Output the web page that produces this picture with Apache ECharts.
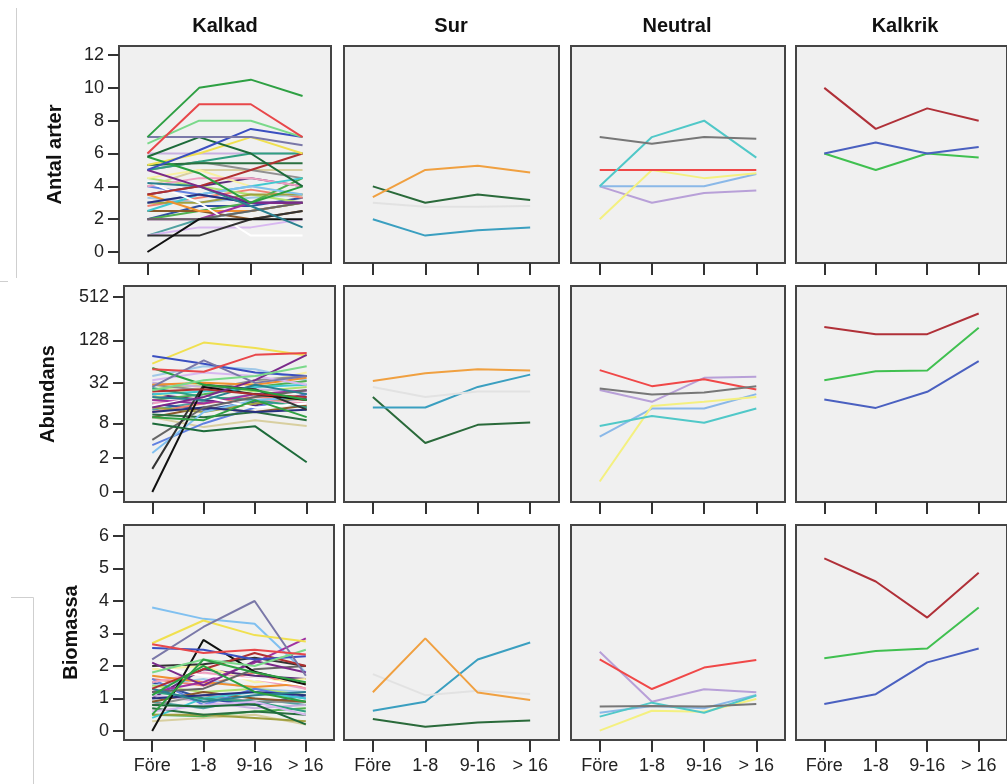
<!DOCTYPE html>
<html>
<head>
<meta charset="utf-8">
<script src="https://cdn.jsdelivr.net/npm/echarts@6/dist/echarts.min.js"></script>
<style>html,body{margin:0;padding:0;background:#fff}#c{width:1007px;height:784px}</style>
</head>
<body>
<div id="c"></div>
<script>
// ---------- DATA ----------
const categories = ['Före', '1-8', '9-16', '> 16'];
const groups = ['Kalkad', 'Sur', 'Neutral', 'Kalkrik'];
const measures = ['Antal arter', 'Abundans', 'Biomassa'];
const arterTicks = [0, 2, 4, 6, 8, 10, 12];
const abundansTicks = [0, 2, 8, 32, 128, 512];
const biomassaTicks = [0, 1, 2, 3, 4, 5, 6];

const kalkadColors = ['#2ea043','#e8474a','#7ad98a','#7a78a8','#3a4fc0','#1d6b3a','#2aa040','#7a2a8a',
  '#f0e050','#b03030','#2a8090','#111111','#333333','#666666','#ffffff','#d8b8f0','#a030a0','#283080',
  '#f09030','#80c0f0','#2a7040','#30a080','#40c8d0','#f0a0c0','#a0a040','#8a5a2a','#50b050','#6080e0',
  '#909090','#c8b0e0','#f8f0a0','#5a2a7a','#b0e070','#a0c8e8','#f08070','#d8cfa0','#3050a0','#50a0a0'];

const kalkadArter = [
  [7,10,10.5,9.5],[6,9,9,7],[6.6,8,8,7],[7,7,7,6.5],[5,6.2,7.5,7],[5.8,7,6,4],[5.8,4.8,3,4],[5,4,3,3],
  [5.3,6,7,6],[3.5,4,5,6],[4.2,4,2.8,1.5],[0,2,2,2],[1,1,2,2.5],[2,2,2.5,3],[4.3,3,1,1],[1,1.5,1.5,2],
  [2,2,3,3],[3,3.5,3,3],[3.5,2.5,2.5,3],[3,3.5,4,3.5],[5.3,5.4,5.4,5.4],[5,5.5,6,6],[2.5,3.5,4,4.5],[4,4.5,4.5,4],
  [3,3,3.5,3.5],[2.5,2.5,2,2.5],[2,2.5,3,4.5],[4,3.5,3,3],[5,5.5,5,4.5],[6,6,6,6],[4.5,5,4,3.5],[3.5,4,4.5,4],
  [4.5,4,3.5,3],[3.3,3,3.3,3.5],[2.8,3.3,3.8,3.3],[4,5,5,5],[2,2.8,2.8,3.3],[1,2,2.5,3]
];
const kalkadAbundans = [
  [10,9,18,10],[50,46,80,85],[25,35,40,55],[28,67,32,40],[77,60,45,40],[8,6,7.2,1.6],[52,30,25,18],[14,20,35,80],
  [60,119,100,78],[24,26,22,20],[20,18,30,22],[0,28,22,18],[1.1,30,26,13],[4.3,14,20,25],[15,20,14,16],[35,45,40,30],
  [18,16,22,25],[12,14,12,13],[30,32,30,38],[2.5,12,18,20],[11,10,12,9],[27,20,18,14],[22,24,28,30],[16,20,18,16],
  [14,12,16,20],[10,14,12,15],[18,22,28,34],[3.5,8,14,22],[30,25,35,40],[32,28,26,24],[20,28,32,45],[22,18,15,22],
  [26,30,24,28],[40,55,50,35],[12,16,20,18],[10,7,9,7.3],[16,13,17,19],[13,17,22,14]
];
const kalkadBiomassa = [
  [0.5,2.2,1.8,1.5],[2.67,2.4,2.5,2.35],[1.8,2.2,2.0,2.5],[2.2,3.2,4.0,1.7],[2.55,2.5,2.2,2.3],[0.8,0.75,0.82,0.2],[1.1,2.0,1.2,0.9],[2.1,1.4,2.15,1.8],
  [2.7,3.4,2.95,2.75],[1.3,1.9,2.4,2.0],[1.3,0.9,1.1,1.2],[0,2.8,1.82,1.43],[2.0,2.05,2.25,2.0],[1.2,1.3,1.9,2.0],[2.0,1.7,1.6,1.4],[0.6,0.8,0.9,0.5],
  [1.2,1.5,2.1,2.85],[1.0,1.1,1.2,1.1],[1.7,1.5,1.35,1.45],[3.8,3.45,3.3,1.8],[0.7,0.5,0.6,0.5],[1.2,1.0,0.9,0.6],[0.4,1.0,1.2,1.0],[1.5,1.8,1.6,1.3],
  [0.5,0.5,0.4,0.3],[0.9,1.2,1.0,0.9],[0.5,0.45,0.6,0.7],[1.6,0.8,1.3,1.0],[0.8,1.1,0.9,0.9],[1.1,0.9,0.7,0.8],[1.9,2.0,1.5,1.6],[1.0,1.9,1.7,1.6],
  [1.4,1.2,1.3,1.1],[1.4,1.6,1.3,1.2],[1.6,1.4,1.8,1.3],[0.3,0.4,0.5,0.2],[1.5,1.0,0.8,1.1],[0.9,0.7,1.0,0.8]
];

const surColors = ['#f0a040','#e2e2e2','#3a9fc0','#2a6a3a'];
const surArter = [[3.35,5,5.25,4.85],[3,2.75,2.75,2.8],[2,1,1.33,1.5],[4,3,3.5,3.17]];
const surAbundans = [[34,44,50,48],[28,20,24,24],[14,14,28,42],[20,3.8,7.6,8.3]];
const surBiomassa = [[1.19,2.85,1.18,0.95],[1.75,1.1,1.24,1.14],[0.62,0.9,2.2,2.72],[0.37,0.13,0.26,0.32]];

const neutralColors = ['#777777','#50c8c8','#f04848','#f4f080','#8ab8e8','#b8a0d8'];
const neutralArter = [[7,6.6,7,6.9],[4,7,8,5.75],[5,5,5,5],[2,5,4.5,4.8],[4,4,4,4.75],[4,3,3.6,3.75]];
const neutralAbundans = [[26.6,21.8,23.3,28.7],[7.3,10.4,8.2,13.5],[48.6,28.7,36,25.7],[0.4,14.7,17,20],[4.9,13.5,13.5,22],[25.2,17,37.8,39]];
const neutralBiomassa = [[0.75,0.77,0.75,0.83],[0.44,0.87,0.56,1.09],[2.2,1.29,1.95,2.18],[0.01,0.62,0.59,0.98],[0.56,0.77,0.7,1.11],[2.44,0.9,1.28,1.19]];

const kalkrikColors = ['#b03038','#4a60c0','#40c050'];
const kalkrikArter = [[10,7.5,8.75,8],[6,6.67,6,6.4],[6,5,6,5.75]];
const kalkrikAbundans = [[197,156,156,303],[18.4,13.8,23.8,65],[35,47,48,192]];
const kalkrikBiomassa = [[5.31,4.6,3.49,4.87],[0.83,1.13,2.11,2.54],[2.24,2.46,2.54,3.8]];

// ---------- BUILD ----------
const FONT = 'Arial, "Liberation Sans", sans-serif';
const panelData = [
  [kalkadArter, surArter, neutralArter, kalkrikArter],
  [kalkadAbundans, surAbundans, neutralAbundans, kalkrikAbundans],
  [kalkadBiomassa, surBiomassa, neutralBiomassa, kalkrikBiomassa]
];
const panelColors = [kalkadColors, surColors, neutralColors, kalkrikColors];
const yTicks = [arterTicks, abundansTicks, biomassaTicks];
const tr = [v => v, v => Math.log2(v + 1), v => v];
const untr = [v => v, v => Math.round(Math.pow(2, v) - 1), v => v];

const rowTop = [46, 286, 525], rowH = [217, 216, 215];
const colLeft = [[119,344,571,796],[124,344,571,796],[124,344,571,796]];
const colW = [[212,215,214,214],[211,215,214,214],[210,215,214,214]];
const yRange = [[-0.67,12.55],[-0.46,9.52],[-0.28,6.34]];
const nameGaps = [54, 66, 43];

const grids = [], xAxes = [], yAxes = [], series = [];
for (let r = 0; r < 3; r++) {
  for (let c = 0; c < 4; c++) {
    const idx = r * 4 + c;
    grids.push({left: colLeft[r][c], top: rowTop[r], width: colW[r][c], height: rowH[r],
      show: true, backgroundColor: '#f0f0f0', borderColor: '#454545', borderWidth: 2});
    xAxes.push({type: 'value', gridIndex: idx, min: -0.55, max: 3.55, position: 'bottom',
      axisLine: {show: false, onZero: false}, splitLine: {show: false},
      axisTick: {show: true, inside: false, customValues: [0,1,2,3], length: 12, lineStyle: {color: '#333', width: 2}},
      axisLabel: {show: r === 2, customValues: [0,1,2,3], formatter: v => categories[Math.round(v)],
        fontSize: 18, color: '#222', margin: 17, fontFamily: FONT}});
    const tv = yTicks[r].map(tr[r]);
    yAxes.push({type: 'value', gridIndex: idx, min: yRange[r][0], max: yRange[r][1], position: 'left',
      axisLine: {show: false, onZero: false}, splitLine: {show: false},
      axisTick: {show: c === 0, inside: false, customValues: tv, length: 11, lineStyle: {color: '#333', width: 2}},
      axisLabel: {show: c === 0, customValues: tv, formatter: v => String(untr[r](v)),
        fontSize: 18, color: '#222', margin: 15, fontFamily: FONT},
      name: c === 0 ? measures[r] : '', nameLocation: 'middle', nameRotate: 90, nameGap: nameGaps[r],
      nameTextStyle: {fontSize: 20, fontWeight: 'bold', color: '#111', fontFamily: FONT}});
    const rows = panelData[r][c], cols = panelColors[c];
    for (let i = rows.length - 1; i >= 0; i--) {
      series.push({type: 'line', xAxisIndex: idx, yAxisIndex: idx, symbol: 'none', silent: true,
        data: rows[i].map((v, k) => [k, tr[r](v)]),
        lineStyle: {color: cols[i], width: 2}, itemStyle: {color: cols[i]}});
    }
  }
}
const titleX = [225, 451, 677, 905];
const titles = groups.map((g, i) => ({text: g, left: titleX[i], top: 16, textAlign: 'center', padding: 0,
  textStyle: {fontSize: 20, fontWeight: 'bold', color: '#111', fontFamily: FONT}}));

const chart = echarts.init(document.getElementById('c'), null, {renderer: 'canvas'});
chart.setOption({
  animation: false,
  backgroundColor: '#ffffff',
  title: titles,
  grid: grids, xAxis: xAxes, yAxis: yAxes, series: series,
  graphic: [
    {type: 'line', shape: {x1: 16.5, y1: 8, x2: 16.5, y2: 278}, style: {stroke: '#cfcfcf', lineWidth: 1}},
    {type: 'line', shape: {x1: 0, y1: 281.5, x2: 8, y2: 281.5}, style: {stroke: '#cfcfcf', lineWidth: 1}},
    {type: 'line', shape: {x1: 11, y1: 597.5, x2: 33.5, y2: 597.5}, style: {stroke: '#cfcfcf', lineWidth: 1}},
    {type: 'line', shape: {x1: 33.5, y1: 597.5, x2: 33.5, y2: 784}, style: {stroke: '#cfcfcf', lineWidth: 1}}
  ]
});
</script>
</body>
</html>
